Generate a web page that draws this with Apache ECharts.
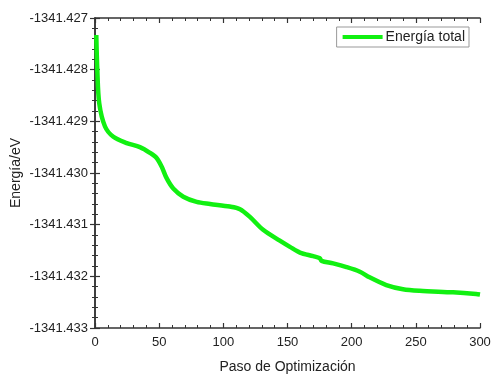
<!DOCTYPE html>
<html><head><meta charset="utf-8">
<script src="https://cdn.jsdelivr.net/npm/echarts@6/dist/echarts.min.js"></script>
<style>html,body{margin:0;padding:0;background:#fff}#c{width:492px;height:375px}</style>
</head><body><div id="c"></div>
<script>
const steps = [1, 1.8, 3.3, 7.8, 14.3, 24.7, 35, 42.8, 48, 52, 55.8, 61, 68.8, 79.2, 89.6, 105, 113, 120.7, 131, 144, 151.9, 159.7, 170, 175.2, 176.5, 185.6, 196, 206.4, 214, 227, 240, 253, 279, 297, 300];
const energy = [-1341.42733, -1341.42801, -1341.42865, -1341.42910, -1341.42930, -1341.42942, -1341.42950, -1341.42961, -1341.42971, -1341.42988, -1341.43010, -1341.43030, -1341.43046, -1341.43056, -1341.43060, -1341.43065, -1341.43070, -1341.43085, -1341.43110, -1341.43131, -1341.43143, -1341.43154, -1341.43161, -1341.43165, -1341.43170, -1341.43175, -1341.43182, -1341.43191, -1341.43202, -1341.43217, -1341.43225, -1341.43228, -1341.43231, -1341.43234, -1341.43235];
const seriesName = 'Energía total';
const xTitle = 'Paso de Optimización';
const yTitle = 'Energía/eV';

const axisColor = '#333';
const font = 'Liberation Sans, Arial, sans-serif';
const chart = echarts.init(document.getElementById('c'));
const tickBase = {show: true, inside: true, length: 5, lineStyle: {color: axisColor, width: 1.2}};
const minorBase = {show: true, splitNumber: 5, length: 3, lineStyle: {color: axisColor, width: 1}};
chart.setOption({
  animation: false,
  grid: {left: 95, right: 12, top: 18, bottom: 47, containLabel: false, outerBoundsMode: 'none'},
  legend: {
    right: 23, top: 27, data: [seriesName],
    icon: 'rect', itemWidth: 40, itemHeight: 4, itemGap: 4,
    borderColor: '#999', borderWidth: 1, padding: [3, 4, 3, 6],
    textStyle: {fontFamily: font, fontSize: 14, color: '#222', padding: [0, 0, 0, -2]}
  },
  xAxis: [{
    type: 'value', min: 0, max: 300, interval: 50,
    name: xTitle, nameLocation: 'middle', nameGap: 32,
    nameTextStyle: {fontFamily: font, fontSize: 14, color: '#222'},
    axisLine: {show: true, lineStyle: {color: axisColor, width: 1.5}},
    axisTick: tickBase, minorTick: minorBase,
    axisLabel: {fontFamily: font, fontSize: 13, color: '#222', margin: 8},
    splitLine: {show: false}
  }, {
    type: 'value', min: 0, max: 300, interval: 50, position: 'top',
    axisLine: {show: true, lineStyle: {color: axisColor, width: 1.5}},
    axisTick: tickBase, minorTick: minorBase,
    axisLabel: {show: false}, splitLine: {show: false}
  }],
  yAxis: [{
    type: 'value', min: -1341.433, max: -1341.427, interval: 0.001,
    name: yTitle, nameLocation: 'middle', nameGap: 72, nameRotate: 90, nameMoveOverlap: false,
    nameTextStyle: {fontFamily: font, fontSize: 14, color: '#222'},
    axisLine: {show: true, lineStyle: {color: axisColor, width: 1.5}},
    axisTick: tickBase, minorTick: minorBase,
    axisLabel: {fontFamily: font, fontSize: 13, color: '#222', margin: 7,
      formatter: v => v.toFixed(3)},
    splitLine: {show: false}
  }, {
    type: 'value', min: -1341.433, max: -1341.427, interval: 0.001, position: 'right',
    axisLine: {show: true, lineStyle: {color: axisColor, width: 1.5}},
    axisTick: tickBase, minorTick: minorBase,
    axisLabel: {show: false}, splitLine: {show: false}
  }],
  series: [{
    name: seriesName, type: 'line', smooth: 0.3, showSymbol: false,
    data: steps.map((s, i) => [s, energy[i]]),
    lineStyle: {color: '#11f011', width: 4.5},
    itemStyle: {color: '#11f011'}
  }]
});
</script></body></html>
